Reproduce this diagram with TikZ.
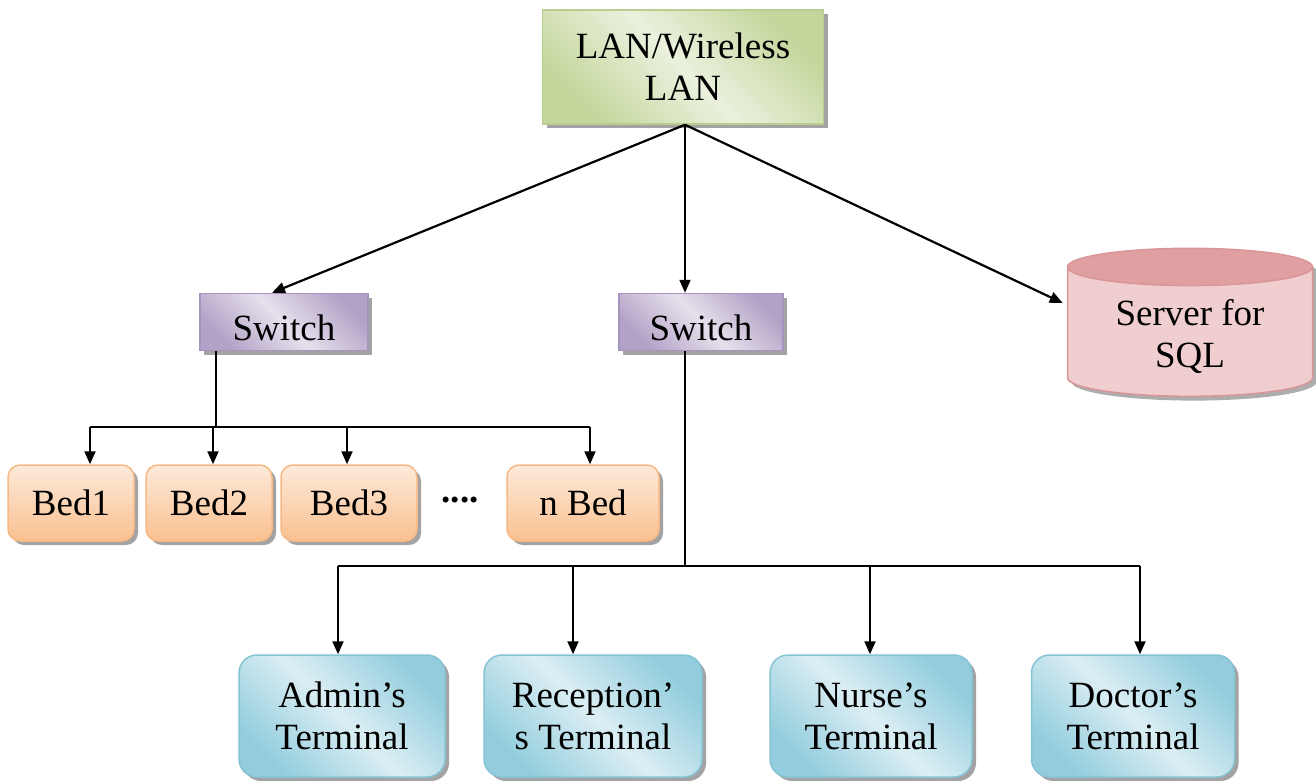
\documentclass[tikz,border=0pt]{standalone}
\usepackage{fontspec}
\setmainfont{Liberation Serif}
\usetikzlibrary{shapes.geometric,shadows,arrows.meta,calc}
\definecolor{gdark}{HTML}{C3D69B}
\definecolor{glight}{HTML}{EBF1DE}
\definecolor{gline}{HTML}{B9CD8E}
\definecolor{pdark}{HTML}{B3A2C7}
\definecolor{plight}{HTML}{E6E0EC}
\definecolor{pline}{HTML}{A594C0}
\definecolor{odark}{HTML}{FAC090}
\definecolor{olight}{HTML}{FDEADA}
\definecolor{oline}{HTML}{F6B986}
\definecolor{bdark}{HTML}{93CDDD}
\definecolor{blight}{HTML}{DBEEF4}
\definecolor{bline}{HTML}{86C3D4}
\definecolor{rend}{HTML}{E0A0A2}
\definecolor{rbody}{HTML}{F0CDCE}
\definecolor{rline}{HTML}{D99597}
\tikzset{
  txt/.style={font=\fontsize{37}{42}\selectfont, align=center, inner sep=0pt},
  shd/.style={drop shadow={shadow xshift=4pt, shadow yshift=-4pt, fill=black!45, opacity=0.8}},
  lanbox/.style={txt, shd, draw=gline, line width=1.5pt, left color=gdark, right color=gdark, middle color=glight, shading angle=135},
  swbox/.style={txt, shd, draw=pline, line width=1.5pt, left color=pdark, right color=pdark, middle color=plight, shading angle=135, text height=37pt},
  bedbox/.style={txt, shd, draw=oline, line width=1.5pt, rounded corners=12pt, top color=olight, bottom color=odark, minimum height=76pt},
  termbox/.style={txt, shd, draw=bline, line width=1.5pt, rounded corners=18pt, left color=bdark, right color=bdark, middle color=blight, shading angle=135, minimum height=122pt},
  cyl/.style={txt, shape=cylinder, shape border rotate=90, aspect=0.25, minimum width=245pt, minimum height=148pt},
  conn/.style={line width=2.2pt, draw=black},
  arr/.style={conn, -{Triangle[length=13pt,width=11pt]}},
}
\begin{document}
\begin{tikzpicture}[x=1pt,y=-1pt]
\useasboundingbox (0,0) rectangle (1316,781);
% top
\node[lanbox, minimum width=281pt, minimum height=114pt] (lan) at (683,67) {LAN/Wireless\\LAN};
\node[swbox, minimum width=168pt, minimum height=57pt] (sw1) at (284,322) {Switch};
\node[swbox, minimum width=164pt, minimum height=57pt] (sw2) at (701,322) {Switch};
\node[cyl, fill=black!40, opacity=0.8] (srvsh) at (1194,336) {\phantom{Server for}\\\phantom{SQL}};
\node[cyl, draw=rline, line width=1.5pt,
      cylinder uses custom fill, cylinder end fill=rend, cylinder body fill=rbody,
      label={[txt, yshift=-4pt]center:Server for\\SQL}] (srv) at (1190,332) {\phantom{Server for}\\\phantom{SQL}};
% beds
\node[bedbox, minimum width=126pt] (bed1) at (71,503) {Bed1};
\node[bedbox, minimum width=126pt] (bed2) at (209,503) {Bed2};
\node[bedbox, minimum width=136pt] (bed3) at (349,503) {Bed3};
\node[txt] (dots) at (460,500) {\textbf{....}};
\node[bedbox, minimum width=152pt] (bedn) at (583,503) {n Bed};
% terminals
\node[termbox, minimum width=206pt] (adm) at (342,716) {Admin’s\\Terminal};
\node[termbox, minimum width=218pt] (rec) at (593,716) {Reception’\\s Terminal};
\node[termbox, minimum width=202pt] (nur) at (871,716) {Nurse’s\\Terminal};
\node[termbox, minimum width=203pt] (doc) at (1133,716) {Doctor’s\\Terminal};
% connectors from LAN
\coordinate (lanb) at ($(lan.south)+(2,0)$);
\draw[arr] (lanb) -- ($(sw1.north)+(-12,0)$);
\draw[arr] (lanb) -- (lanb |- sw2.north);
\draw[arr] (lanb) -- ($(srv.west)+(-4,-29)$);
% bed bus
\coordinate (b0) at (216,427);
\coordinate (j1) at (90,427);
\coordinate (j2) at (213,427);
\coordinate (j3) at (347,427);
\coordinate (j4) at (590,427);
\draw[conn] (b0 |- sw1.south) -- (b0);
\draw[conn] (j1) -- (j4);
\draw[arr] (j1) -- (j1 |- bed1.north);
\draw[arr] (j2) -- (j2 |- bed2.north);
\draw[arr] (j3) -- (j3 |- bed3.north);
\draw[arr] (j4) -- (j4 |- bedn.north);
% terminal bus
\coordinate (t0) at (685,566);
\coordinate (k1) at (338,566);
\coordinate (k2) at (573,566);
\coordinate (k3) at (870,566);
\coordinate (k4) at (1140,566);
\draw[conn] (t0 |- sw2.south) -- (t0);
\draw[conn] (k1) -- (k4);
\draw[arr] (k1) -- (k1 |- adm.north);
\draw[arr] (k2) -- (k2 |- rec.north);
\draw[arr] (k3) -- (k3 |- nur.north);
\draw[arr] (k4) -- (k4 |- doc.north);
\end{tikzpicture}
\end{document}
